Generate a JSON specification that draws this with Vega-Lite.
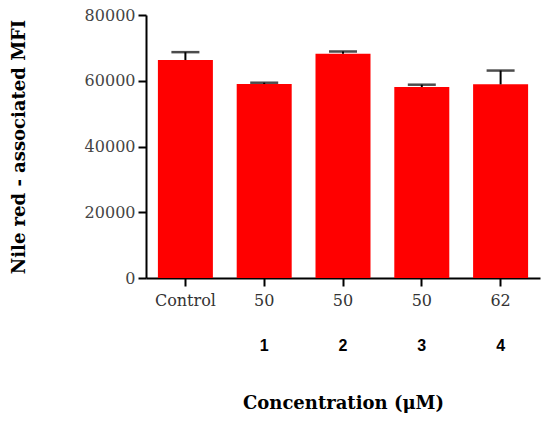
{
  "$schema": "https://vega.github.io/schema/vega-lite/v6.json",
  "width": 394,
  "height": 263,
  "autosize": "none",
  "padding": {"left": 146, "top": 15, "right": 10, "bottom": 151},
  "background": "white",
  "data": {
    "values": [
      {"group": "Control", "compound": "", "mfi": 66300, "upper": 68700},
      {"group": "50 (1)", "compound": "1", "mfi": 59000, "upper": 59400},
      {"group": "50 (2)", "compound": "2", "mfi": 68200, "upper": 68900},
      {"group": "50 (3)", "compound": "3", "mfi": 58100, "upper": 58800},
      {"group": "62 (4)", "compound": "4", "mfi": 58900, "upper": 63100}
    ]
  },
  "layer": [
    {
      "mark": {"type": "bar", "color": "#ff0000", "width": 55},
      "encoding": {
        "x": {
          "field": "group",
          "type": "nominal",
          "sort": null,
          "axis": {
            "orient": "bottom",
            "title": null,
            "labelAngle": 0,
            "labelExpr": "split(datum.label, ' ')[0]",
            "labelFont": "DejaVu Serif",
            "labelFontSize": 16,
            "labelColor": "#333333",
            "labelPadding": 6,
            "tickSize": 8,
            "tickWidth": 2,
            "tickColor": "black",
            "domainColor": "black",
            "domainWidth": 2
          }
        },
        "y": {
          "field": "mfi",
          "type": "quantitative",
          "scale": {"domain": [0, 80000]},
          "axis": {
            "title": "Nile red - associated MFI",
            "titleFont": "DejaVu Serif",
            "titleFontSize": 18,
            "titleFontWeight": "bold",
            "titleColor": "black",
            "titlePadding": 56,
            "values": [0, 20000, 40000, 60000, 80000],
            "format": "d",
            "grid": false,
            "labelFont": "DejaVu Serif",
            "labelFontSize": 16,
            "labelColor": "#444444",
            "labelPadding": 3,
            "tickSize": 8,
            "tickWidth": 2,
            "tickColor": "black",
            "domainColor": "black",
            "domainWidth": 2
          }
        }
      }
    },
    {
      "mark": {"type": "rule", "color": "black", "strokeWidth": 2},
      "encoding": {
        "x": {"field": "group", "type": "nominal", "sort": null, "axis": null},
        "y": {"field": "mfi", "type": "quantitative"},
        "y2": {"field": "upper"}
      }
    },
    {
      "mark": {"type": "tick", "color": "black", "size": 28, "thickness": 2.5, "orient": "horizontal"},
      "encoding": {
        "x": {
          "field": "group",
          "type": "nominal",
          "sort": null,
          "axis": {
            "orient": "bottom",
            "title": "Concentration (μM)",
            "titleFont": "DejaVu Serif",
            "titleFontSize": 18,
            "titleFontWeight": "bold",
            "titleColor": "black",
            "titlePadding": 41,
            "labelAngle": 0,
            "labelExpr": "datum.label == 'Control' ? '' : slice(split(datum.label, '(')[1], 0, 1)",
            "labelFont": "Liberation Sans",
            "labelFontSize": 16,
            "labelFontWeight": "bold",
            "labelColor": "black",
            "labelPadding": 59,
            "ticks": false,
            "tickSize": 0,
            "domain": false
          }
        },
        "y": {"field": "upper", "type": "quantitative"}
      }
    }
  ],
  "resolve": {"axis": {"x": "independent"}},
  "config": {
    "view": {"stroke": null}
  }
}
